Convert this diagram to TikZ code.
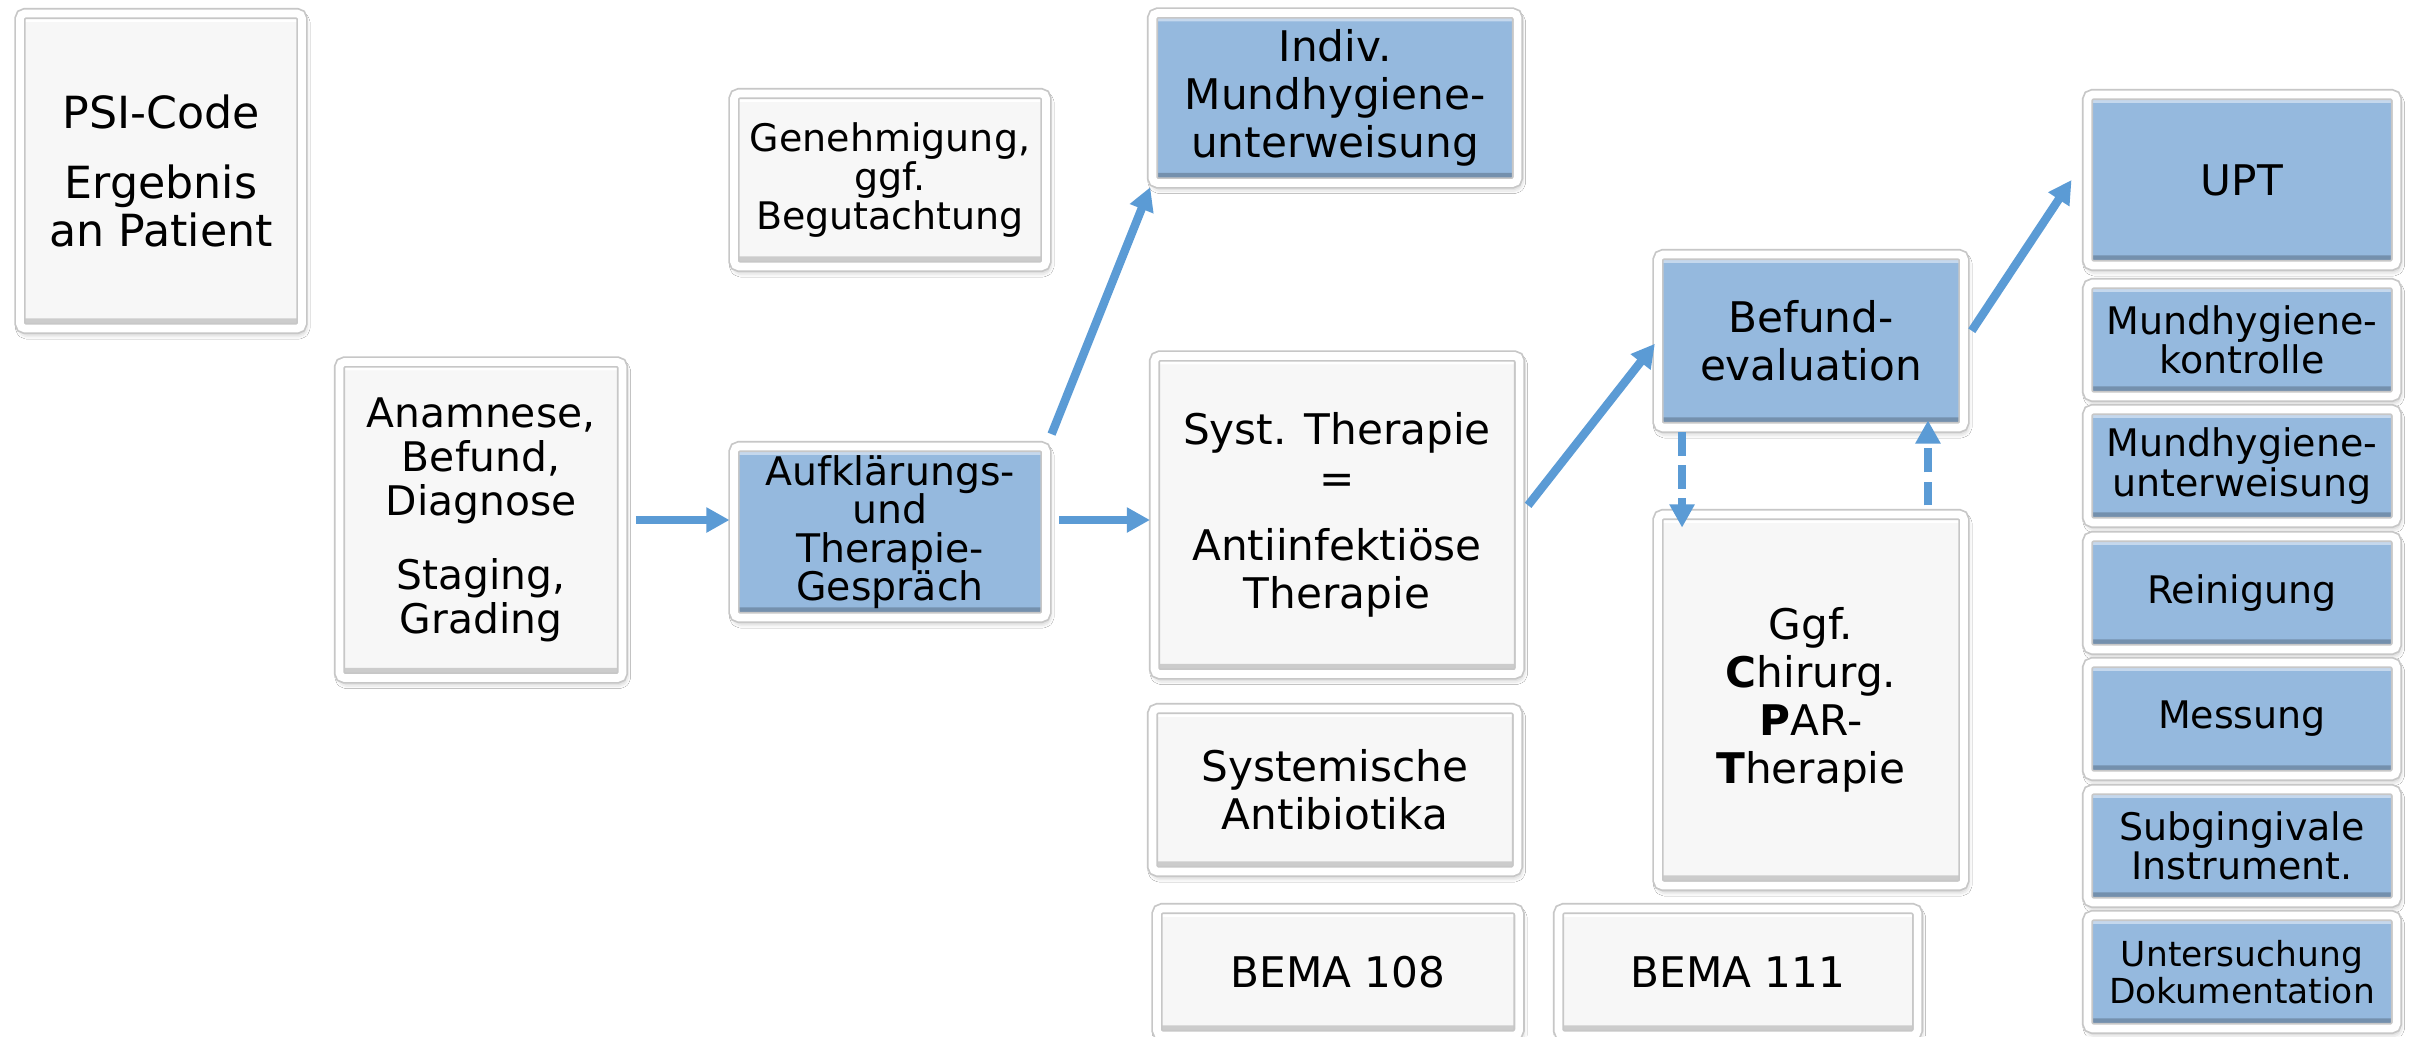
\documentclass[tikz,border=0pt]{standalone}
\usepackage{fontspec}
\setmainfont{DejaVu Sans}
\usepackage{tikz}
\usetikzlibrary{shapes,arrows.meta,calc,shadows.blur}
\definecolor{cardgrey}{HTML}{F7F7F7}
\definecolor{cardblue}{HTML}{95B9DE}
\definecolor{arrowblue}{HTML}{5B9BD5}
\tikzset{
   bevel/.style 2 args={path picture={
       \fill[#1] (path picture bounding box.north west) rectangle ([yshift=-2.4pt]path picture bounding box.north east);
       \fill[#2] (path picture bounding box.south west) rectangle ([yshift=2.9pt]path picture bounding box.south east);}},
   card/.style={rectangle, draw=black!22, line width=0.5pt, double=white, double distance=2.2pt,
                rounded corners=1.5pt, align=center, inner sep=1pt,
                blur shadow={shadow xshift=0.5pt, shadow yshift=-1.2pt, shadow blur radius=1.8pt, shadow opacity=35}},
   greycard/.style={card, fill=cardgrey, bevel={white}{black!20}},
   bluecard/.style={card, fill=cardblue, bevel={cardblue!55!white}{cardblue!78!black}},
   bigtext/.style={font=\fontsize{12}{13.7}\selectfont},
   smalltext/.style={font=\fontsize{10.8}{11.2}\selectfont},
   conn/.style={arrowblue, line width=2.4pt, -{Triangle[length=6.6pt,width=6.8pt]}, shorten <=3.5pt, shorten >=1pt},
   dashconn/.style={conn, dash pattern=on 6.8pt off 2.6pt}
}

\begin{document}
\begin{tikzpicture}[x=0.01cm,y=-0.01cm]
\fill[white] (0,0) rectangle (2412,1036);
\useasboundingbox (0,0) rectangle (2412,1036);

% Diagnostik
\node[greycard,font=\fontsize{12.6}{13.8}\selectfont,minimum width=2.82cm,minimum height=3.15cm] (psi) at (161,171) {PSI-Code\\[6pt]Ergebnis\\an Patient};
\node[greycard,font=\fontsize{11.6}{12.5}\selectfont,minimum width=2.83cm,minimum height=3.16cm] (anam) at (481,520) {Anamnese,\\Befund,\\Diagnose\\[8.5pt]Staging,\\Grading};
\node[greycard,smalltext,minimum width=3.12cm,minimum height=1.73cm] (genehm) at (890,180) {Genehmigung,\\ggf.\\Begutachtung};
\node[bluecard,font={\fontsize{11.2}{10.9}\selectfont\lineskiplimit=-5pt},minimum width=3.12cm,minimum height=1.71cm] (aufkl) at (890,532) {Aufklärungs-\\und\\Therapie-\\Gespräch};

% AIT
\node[bluecard,bigtext,minimum width=3.65cm,minimum height=1.70cm] (indiv) at (1335,98) {Indiv.\\Mundhygiene-\\unterweisung};
\node[greycard,bigtext,minimum width=3.65cm,minimum height=3.18cm] (syst) at (1337,515) {Syst. Therapie\\=\\[5.4pt]Antiinfektiöse\\Therapie};
\node[greycard,bigtext,minimum width=3.65cm,minimum height=1.63cm] (antib) at (1335,790) {Systemische\\Antibiotika};
\node[greycard,bigtext,minimum width=3.62cm,minimum height=1.27cm] (bema108) at (1338,972) {BEMA 108};

% Befundevaluation
\node[bluecard,bigtext,minimum width=3.06cm,minimum height=1.73cm] (befund) at (1811,341) {Befund-\\evaluation};
\node[greycard,bigtext,minimum width=3.06cm,minimum height=3.71cm] (chir) at (1811,700) {Ggf.\\\textbf{C}hirurg.\\\textbf{P}AR-\\\textbf{T}herapie};
\node[greycard,bigtext,minimum width=3.59cm,minimum height=1.27cm] (bema111) at (1738,972) {BEMA 111};

% UPT
\node[bluecard,bigtext,minimum width=3.09cm,minimum height=1.71cm] (upt) at (2242,180) {UPT};
\node[bluecard,smalltext,minimum width=3.09cm,minimum height=1.13cm] (mhk) at (2242,340) {Mundhygiene-\\kontrolle};
\node[bluecard,smalltext,minimum width=3.09cm,minimum height=1.13cm] (mhu) at (2242,466) {Mundhygiene-\\unterweisung};
\node[bluecard,smalltext,minimum width=3.09cm,minimum height=1.13cm] (rein) at (2242,593) {Reinigung};
\node[bluecard,smalltext,minimum width=3.09cm,minimum height=1.13cm] (mess) at (2242,719) {Messung};
\node[bluecard,smalltext,minimum width=3.09cm,minimum height=1.13cm] (subg) at (2242,846) {Subgingivale\\Instrument.};
\node[bluecard,font=\fontsize{9.8}{10.6}\selectfont,minimum width=3.09cm,minimum height=1.13cm] (unters) at (2242,972) {Untersuchung\\Dokumentation};

\path[conn]
(anam) edge (anam -| aufkl.west)
(aufkl.east |- anam) edge (syst.west |- anam)
(aufkl.north east) edge (indiv.south west)
(syst.east) edge (befund.west)
(befund.east) edge[shorten >=0pt] ([xshift=-0.15cm]upt.west)
;
\path[dashconn]
([xshift=0.25cm]befund.south west) edge[shorten <=1pt, shorten >=-4pt] ([xshift=0.25cm]chir.north west)
([xshift=-0.37cm]chir.north east) edge[shorten <=2.3pt, shorten >=-2.3pt] ([xshift=-0.37cm]befund.south east)
;

\end{tikzpicture}
\end{document}
